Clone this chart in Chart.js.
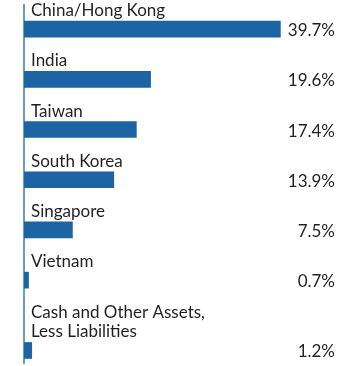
<!DOCTYPE html>
<html>
<head>
<meta charset="utf-8">
<script src="https://cdn.jsdelivr.net/npm/chart.js@4/dist/chart.umd.min.js"></script>
<style>
html,body{margin:0;padding:0;background:#fff;}
#wrap{width:360px;height:366px;position:relative;}
</style>
</head>
<body>
<div id="wrap"><canvas id="c"></canvas></div>
<script>
const categories = [
  ["China/Hong Kong"],
  ["India"],
  ["Taiwan"],
  ["South Korea"],
  ["Singapore"],
  ["Vietnam"],
  ["Cash and Other Assets,", "Less Liabilities"]
];
const values = [39.7, 19.6, 17.4, 13.9, 7.5, 0.7, 1.2];
const valueLabels = ["39.7%", "19.6%", "17.4%", "13.9%", "7.5%", "0.7%", "1.2%"];

// Row positions derived from the number of label lines (extra line adds 0.4 of a row)
const rowPos = [];
let acc = 0;
categories.forEach((lines, i) => {
  if (i > 0) acc += 1 + 0.4 * (lines.length - 1);
  rowPos.push(acc);
});

const FONT = "17px Lato";
const TEXT = "#231f20";

const labelPlugin = {
  id: 'rowLabels',
  afterDatasetsDraw(chart) {
    const ctx = chart.ctx;
    const meta = chart.getDatasetMeta(0);
    const area = chart.chartArea;
    ctx.save();
    ctx.font = FONT;
    ctx.fillStyle = TEXT;
    ctx.textBaseline = 'alphabetic';
    meta.data.forEach((bar, i) => {
      const top = bar.y - bar.height / 2;
      const bottom = bar.y + bar.height / 2;
      const lines = categories[i];
      ctx.textAlign = 'left';
      lines.forEach((ln, k) => {
        const base = top - 5 - (lines.length - 1 - k) * 19;
        ctx.fillText(ln, area.left + 7, base);
      });
      ctx.textAlign = 'right';
      ctx.fillText(valueLabels[i], area.right + 1, bottom - 1);
    });
    ctx.restore();
  }
};

new Chart(document.getElementById('c'), {
  type: 'bar',
  data: {
    datasets: [{
      data: values.map((v, i) => ({ x: v, y: rowPos[i] })),
      backgroundColor: '#1c64a3',
      borderWidth: 0,
      barThickness: 16
    }]
  },
  options: {
    indexAxis: 'y',
    responsive: true,
    maintainAspectRatio: false,
    animation: false,
    layout: { padding: { left: 24, right: 26, top: 5, bottom: 3 } },
    plugins: { legend: { display: false }, tooltip: { enabled: false } },
    scales: {
      x: { type: 'linear', min: 0, max: 48, display: false },
      y: {
        type: 'linear', reverse: true, min: -0.48, max: 6.65, offset: false,
        display: true,
        ticks: { display: false },
        grid: { display: false, drawTicks: false, offset: false },
        border: { display: true, color: '#6a9bc9', width: 2 },
        afterFit(scale) { scale.width = 0; }
      }
    }
  },
  plugins: [labelPlugin]
});
</script>
</body>
</html>
